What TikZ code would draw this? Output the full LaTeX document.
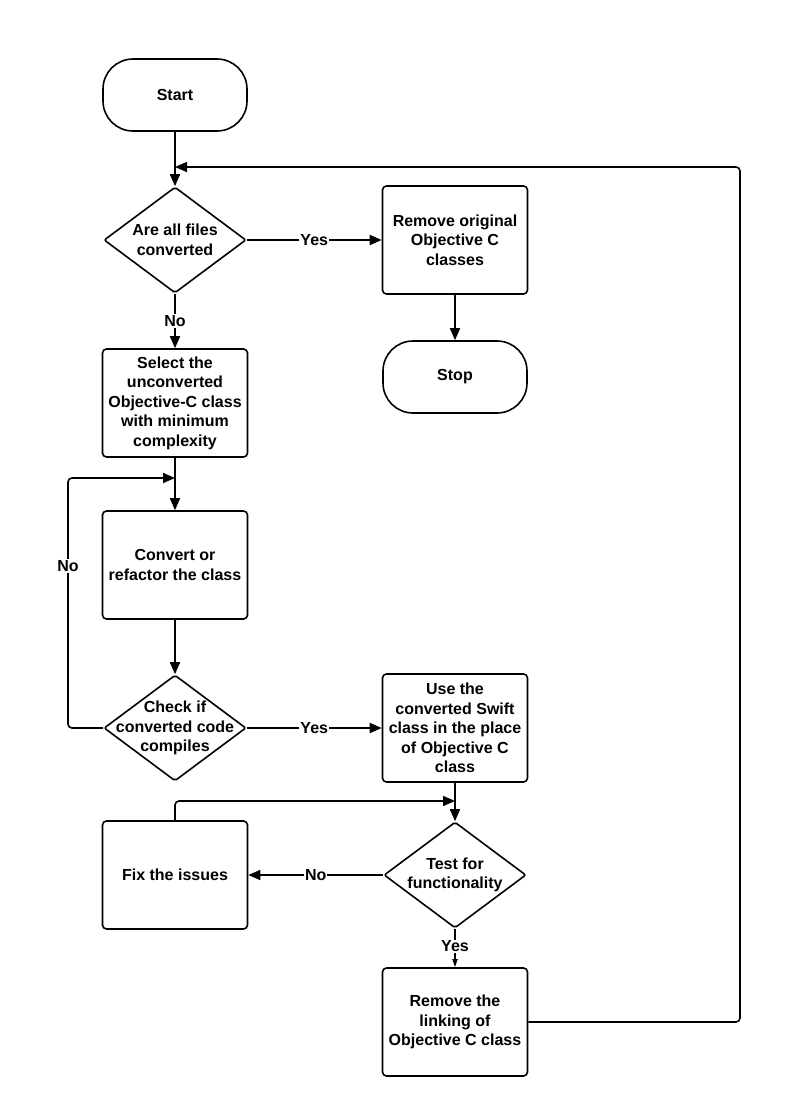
\documentclass[tikz,border=0pt]{standalone}
\usepackage{fontspec}
\setmainfont{Liberation Sans}
\usetikzlibrary{shapes.geometric,arrows.meta}
\begin{document}
\begin{tikzpicture}[x=1pt,y=-1pt,
 every node/.style={font=\fontsize{16}{19.5}\selectfont\bfseries, align=center},
 proc/.style={draw, line width=1.6pt, rounded corners=4pt, minimum width=145pt, minimum height=108pt, inner sep=0pt},
 term/.style={draw, line width=1.6pt, rounded corners=30pt, minimum width=144pt, minimum height=72pt, inner sep=0pt},
 dec/.style={draw, line width=1.6pt, diamond, minimum width=142pt, minimum height=106pt, inner sep=0pt, rounded corners=2pt},
 lbl/.style={fill=white, inner sep=1pt},
 arr/.style={line width=1.6pt, -{Triangle[length=12pt,width=10pt]}},
 ln/.style={line width=1.6pt, rounded corners=4pt}]
\useasboundingbox (0,0) rectangle (800,1117);
% nodes
\node[term] (start) at (175,95) {Start};
\node[dec] (d1) at (175,240) {};
\node (d1t) at (d1) {Are all files\\converted};
\node[proc] (rm) at (455,240) {Remove original\\Objective C\\classes};
\node[term] (stop) at (455,377) {Stop};
\node[proc] (sel) at (175,403) {Select the\\unconverted\\Objective-C class\\with minimum\\complexity};
\node[proc] (conv) at (175,565) {Convert or\\refactor the class};
\node[dec] (d2) at (175,728) {};
\node (d2t) at (d2) {Check if\\converted code\\compiles};
\node[proc] (use) at (455,728) {Use the\\converted Swift\\class in the place\\of Objective C\\class};
\node[proc] (fix) at (175,875) {Fix the issues};
\node[dec] (d3) at (455,875) {};
\node (d3t) at (d3) {Test for\\functionality};
\node[proc] (rl) at (455,1022) {Remove the\\linking of\\Objective C class};
% coordinates
\coordinate (top) at (175,167);
\coordinate (loopin) at (175,478);
\coordinate (fixin) at (455,801);
% connectors
\draw[arr] (start) -- (d1);
\draw[arr] (d1) -- node[lbl]{Yes} (rm);
\draw[arr] (rm) -- (stop);
\draw[arr] (d1) -- node[lbl]{No} (sel);
\draw[arr] (sel) -- (conv);
\draw[arr] (conv) -- (d2);
\draw[arr] (d2) -- node[lbl]{Yes} (use);
\draw[arr] (use) -- (d3);
\draw[arr] (d3) -- node[lbl]{No} (fix);
\draw[line width=1.6pt, -{Triangle[length=8pt,width=5pt]}] (d3) -- node[lbl,pos=0.45]{Yes} (rl);
\draw[ln, arr] (d2.west) -- (68,728) -- (68,478) -- (loopin);
\node[lbl] (nolbl) at (68,566) {No};
\draw[ln, arr] (fix.north) -- (175,801) -- (fixin);
\draw[ln, arr] (rl.east) -- (740,1022) -- (740,167) -- (top);
\end{tikzpicture}
\end{document}
